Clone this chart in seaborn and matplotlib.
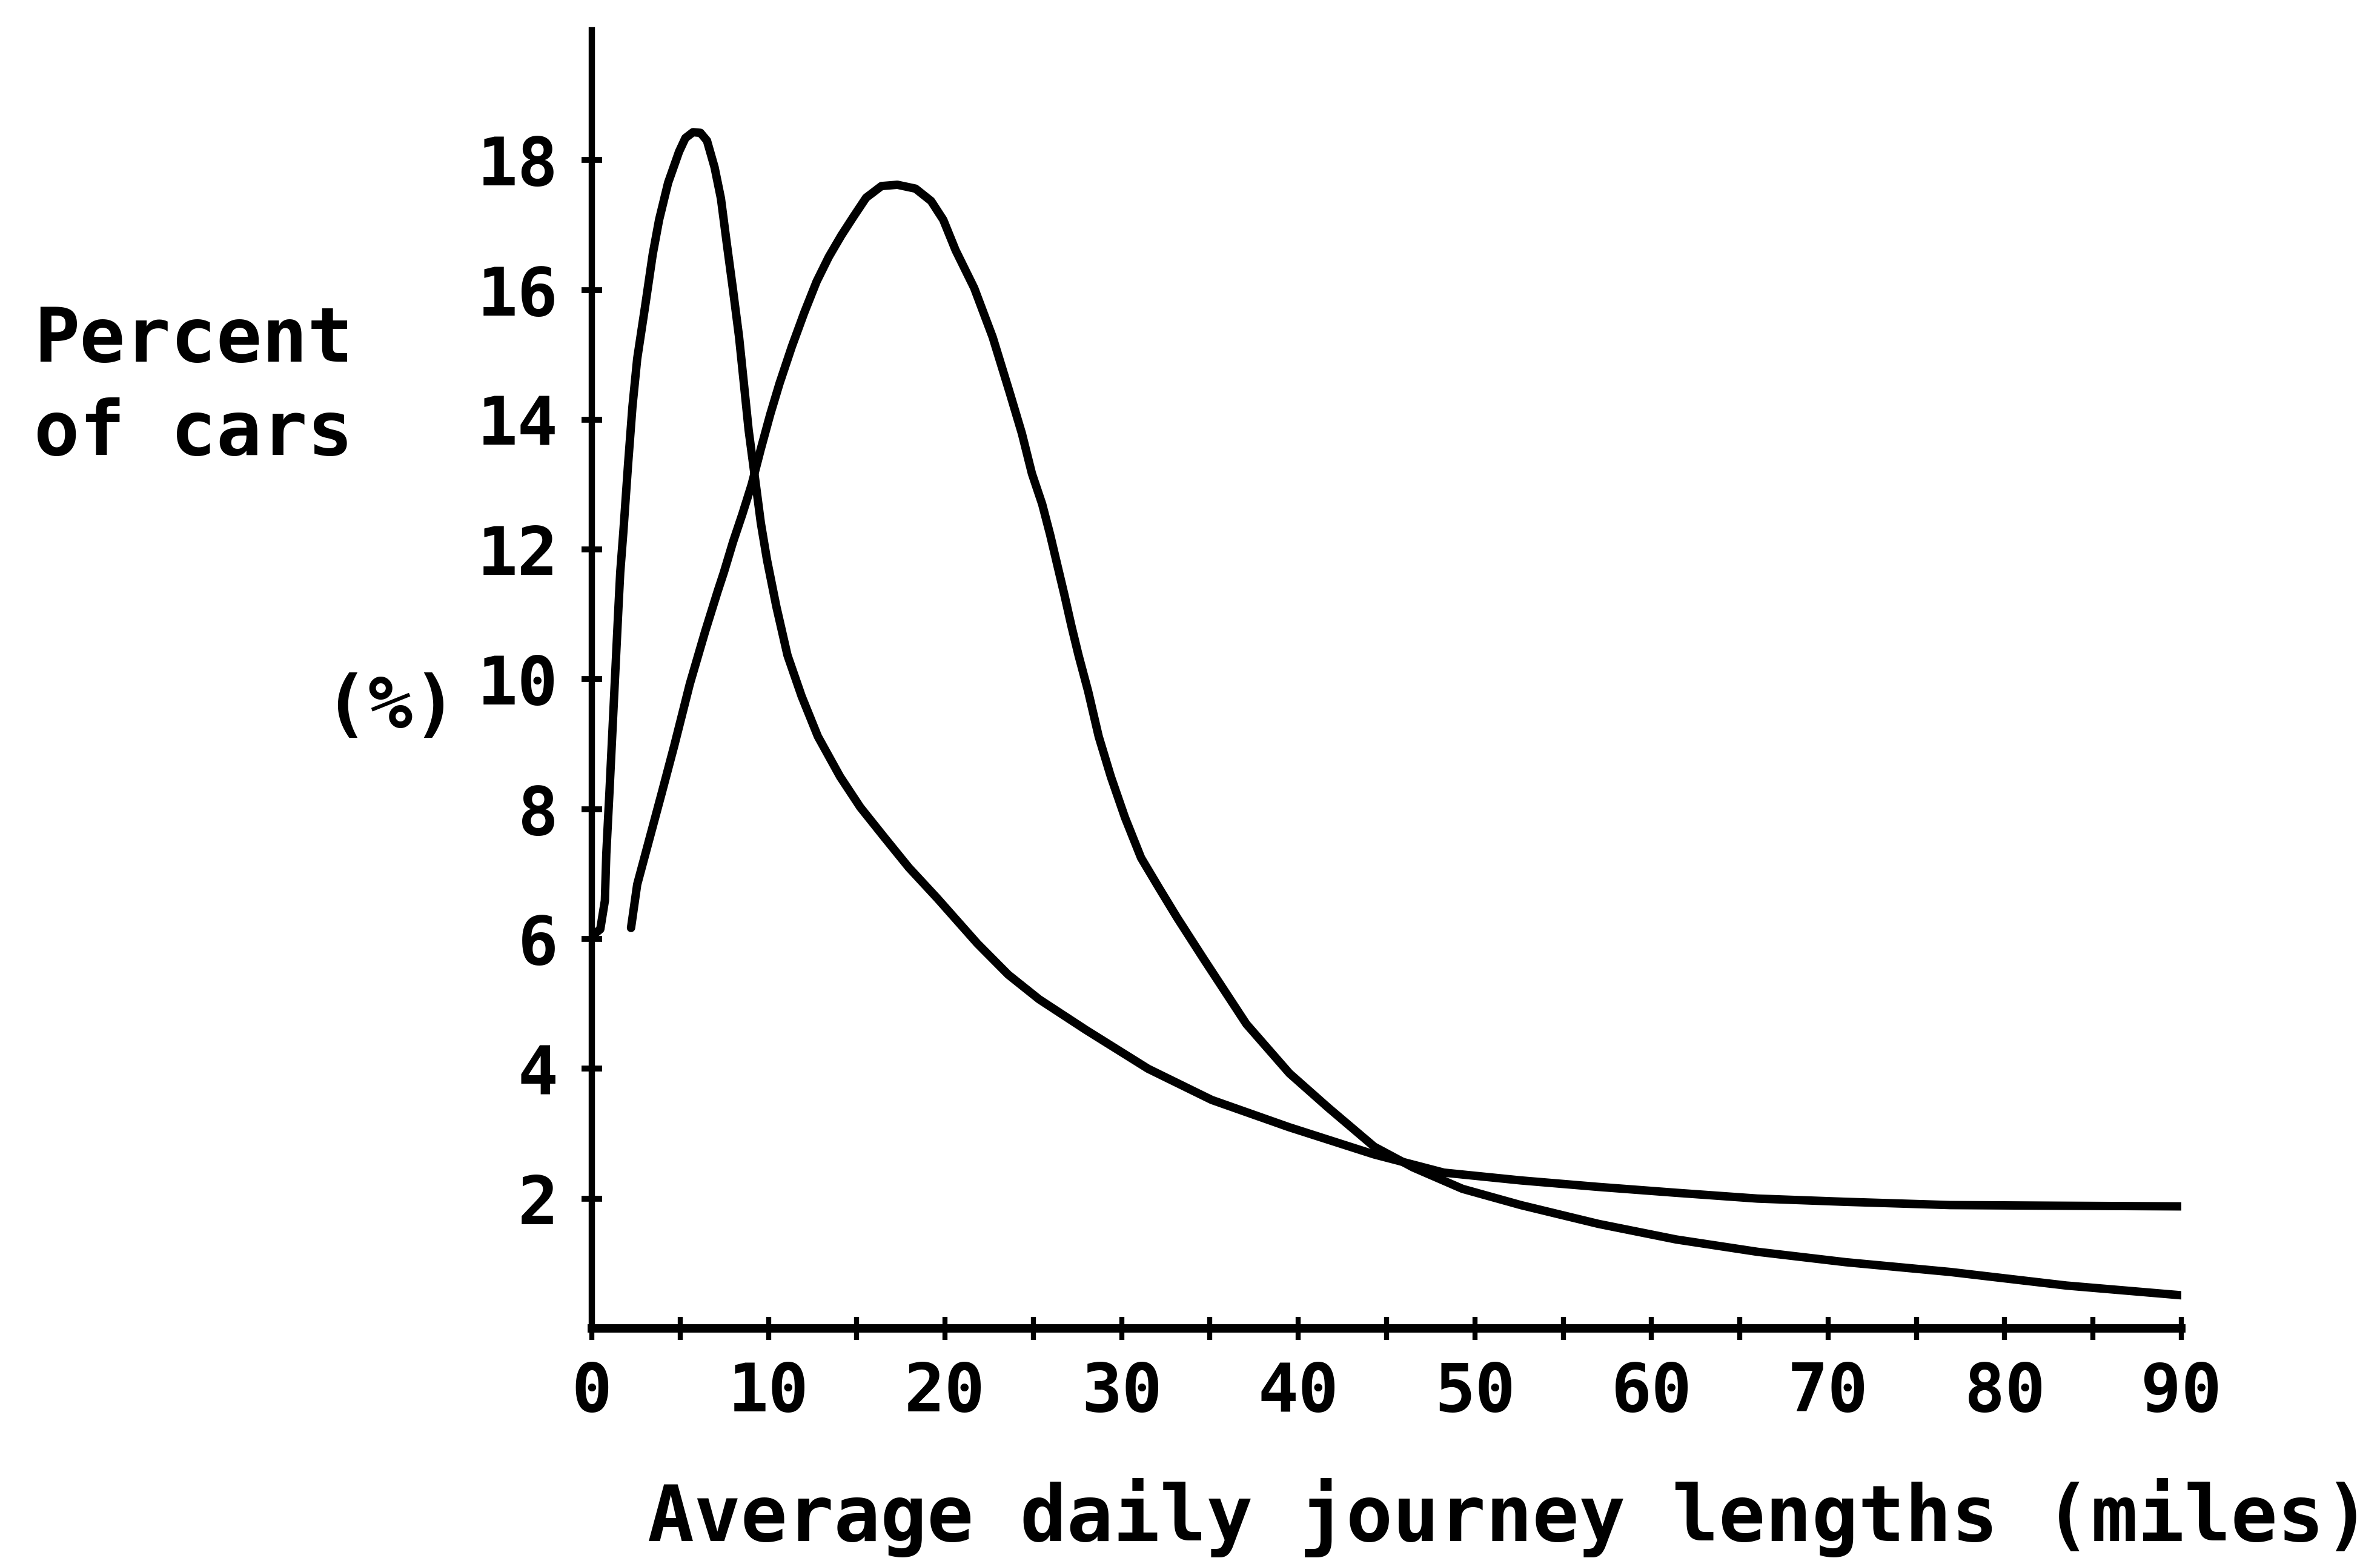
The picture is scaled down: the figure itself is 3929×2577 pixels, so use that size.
import matplotlib
matplotlib.use("Agg")
import matplotlib.pyplot as plt
import seaborn as sns
import pandas as pd
from matplotlib.ticker import FixedLocator

# ---- data ----
curve_a_x = [0.12, 0.48, 0.74, 0.82, 1.0, 1.17, 1.34, 1.51, 1.61, 1.78, 2.05, 2.30, 2.57,
             3.02, 3.45, 3.81, 4.32, 4.94, 5.3, 5.73, 6.15, 6.52, 6.95, 7.31, 7.65, 8.0, 8.34,
             8.61, 8.88, 9.23, 9.57, 9.92, 10.45, 11.08, 11.88, 12.80, 14.06, 15.20, 16.58,
             17.95, 19.55, 21.83, 23.58, 25.33, 27.97, 31.5, 35.1, 39.48, 44.3, 48.24, 52.6,
             56.99, 61.37, 66.0, 71.0, 76.9, 83.0, 90.0]
curve_a_y = [6.07, 6.15, 6.59, 7.31, 8.27, 9.22, 10.17, 11.12, 11.65, 12.25, 13.3, 14.2, 14.94,
             15.75, 16.55, 17.08, 17.65, 18.13, 18.34, 18.43, 18.42, 18.30, 17.89, 17.41, 16.70,
             15.99, 15.27, 14.56, 13.84, 13.12, 12.41, 11.84, 11.12, 10.37, 9.74, 9.12, 8.50,
             8.03, 7.56, 7.10, 6.63, 5.93, 5.45, 5.07, 4.60, 4.00, 3.52, 3.10, 2.68, 2.40, 2.28,
             2.18, 2.09, 2.00, 1.95, 1.90, 1.89, 1.88]

curve_b_x = [2.22, 2.57, 3.27, 3.98, 4.67, 5.55, 6.42, 7.13, 7.48, 8.0, 8.53, 9.05, 9.57, 10.1,
             10.63, 11.33, 12.03, 12.73, 13.42, 14.13, 14.82, 15.53, 16.4, 17.3, 18.33, 19.21,
             19.9, 20.6, 21.65, 22.7, 23.67, 24.35, 24.92, 25.5, 25.95, 26.35, 26.76, 27.15,
             27.56, 28.1, 28.70, 29.39, 30.19, 31.10, 32.13, 33.16, 34.65, 37.06, 39.5, 41.7,
             44.3, 46.5, 49.3, 52.6, 57.0, 61.4, 66.0, 71.0, 76.9, 83.5, 90.0]
curve_b_y = [6.17, 6.84, 7.55, 8.27, 8.98, 9.93, 10.74, 11.36, 11.65, 12.12, 12.55, 13.0, 13.55,
             14.08, 14.56, 15.13, 15.65, 16.13, 16.51, 16.84, 17.13, 17.42, 17.6, 17.62, 17.56,
             17.37, 17.08, 16.61, 16.03, 15.27, 14.41, 13.79, 13.17, 12.70, 12.23, 11.77, 11.30,
             10.83, 10.37, 9.82, 9.12, 8.50, 7.87, 7.25, 6.78, 6.32, 5.69, 4.69, 3.93, 3.40,
             2.80, 2.48, 2.15, 1.90, 1.61, 1.37, 1.18, 1.02, 0.87, 0.66, 0.51]

x_major_ticks = [0, 10, 20, 30, 40, 50, 60, 70, 80, 90]
x_minor_ticks = [5, 15, 25, 35, 45, 55, 65, 75, 85]
y_ticks = [2, 4, 6, 8, 10, 12, 14, 16, 18]

x_label = "Average daily journey lengths (miles)"
y_label = "Percent\nof cars"
unit_label = "(%)"

# ---- plot ----
sns.set_style("white")
FONT = ["DejaVu Sans Mono", "DejaVu Sans"]
plt.rcParams["font.family"] = FONT
plt.rcParams["font.weight"] = "bold"
for key in ["text.color", "axes.labelcolor", "xtick.color", "ytick.color", "axes.edgecolor"]:
    plt.rcParams[key] = "black"

fig = plt.figure(figsize=(39.29, 25.77), dpi=100)
ax = fig.add_axes([0.24866, 0.14901, 0.66786, 0.83159])

df_a = pd.DataFrame({"x": curve_a_x, "y": curve_a_y})
df_b = pd.DataFrame({"x": curve_b_x, "y": curve_b_y})
for df in (df_a, df_b):
    sns.lineplot(data=df, x="x", y="y", ax=ax, color="black", linewidth=10, sort=False,
                 estimator=None, solid_joinstyle="round", solid_capstyle="round")

ax.set_xlim(0, 90)
ax.set_ylim(0, 20)

for side in ["top", "right"]:
    ax.spines[side].set_visible(False)
ax.spines["left"].set_linewidth(7.5)
ax.spines["bottom"].set_linewidth(10)

ax.xaxis.set_major_locator(FixedLocator(x_major_ticks))
ax.xaxis.set_minor_locator(FixedLocator(x_minor_ticks))
ax.yaxis.set_major_locator(FixedLocator(y_ticks))
ax.set_xticklabels([str(v) for v in x_major_ticks])
ax.set_yticklabels([str(v) for v in y_ticks])

ax.tick_params(axis="x", which="both", direction="inout", length=28, width=6,
               color="black", bottom=True)
ax.tick_params(axis="x", which="major", pad=24, labelsize=80, labelcolor="black")
ax.tick_params(axis="y", which="major", direction="inout", length=24, width=7,
               color="black", left=True, pad=28, labelsize=80, labelcolor="black")
for lab in ax.get_xticklabels() + ax.get_yticklabels():
    lab.set_fontweight("bold")
    lab.set_family(FONT)

ax.set_xlabel(x_label, fontsize=92, fontweight="bold", va="center", color="black")
ax.xaxis.set_label_coords(0.577, -0.146)

ax.set_ylabel(y_label, fontsize=90, fontweight="bold", rotation=0, ha="left",
              va="center", multialignment="left", linespacing=1.35, color="black")
ax.yaxis.set_label_coords(-0.351, 0.725)

ax.text(-0.1265, 0.478, unit_label, transform=ax.transAxes, fontsize=88,
        fontweight="bold", ha="center", va="center", color="black")

fig.savefig("out.png", dpi=100, facecolor="white")
